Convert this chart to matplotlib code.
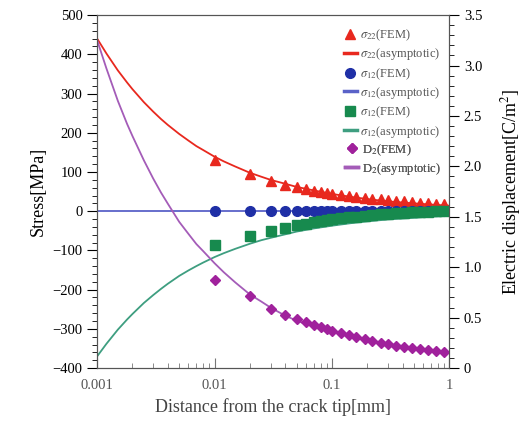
import matplotlib
matplotlib.use("Agg")
import matplotlib.pyplot as plt
from matplotlib.lines import Line2D
from matplotlib.ticker import MultipleLocator

plt.rcParams["font.family"] = ["Liberation Serif", "DejaVu Serif"]
plt.rcParams["mathtext.fontset"] = "stix"

# FEM sample positions [mm]
x_fem = [0.01, 0.02, 0.03, 0.04, 0.05, 0.06, 0.07, 0.08, 0.09, 0.10,
         0.12, 0.14, 0.16, 0.19, 0.22, 0.26, 0.30, 0.35, 0.41, 0.48,
         0.56, 0.66, 0.77, 0.90]
s22_fem = [130, 95, 78, 68, 61, 56, 52, 49, 46, 44,
           41, 38, 36, 34, 32, 30, 28, 26, 25, 23,
           22, 20, 19, 18]
s12_fem = [0, 0, 0, 0, 0, 0, 0, 0, 0, 0,
           0, 0, 0, 0, 0, 0, 0, 0, 0, 0,
           0, 0, 0, 0]
s11_fem = [-85, -64, -50, -42, -36, -32, -28, -25, -23, -21,
           -18, -16, -14, -12, -10, -8, -7, -5, -4, -3,
           -2, -1, 0, 1]
d2_fem = [0.87, 0.71, 0.59, 0.53, 0.49, 0.46, 0.43, 0.41, 0.39, 0.37,
          0.35, 0.33, 0.31, 0.29, 0.27, 0.25, 0.24, 0.22, 0.21, 0.20,
          0.19, 0.18, 0.17, 0.16]

# asymptotic solution
x_asy = [0.001, 0.0012, 0.0015, 0.0018, 0.002, 0.0025, 0.003, 0.0035,
         0.004, 0.005, 0.006, 0.007, 0.008, 0.01, 0.012, 0.015, 0.02,
         0.025, 0.03, 0.04, 0.05, 0.07, 0.1, 0.15, 0.2, 0.3, 0.5, 0.7, 1.0]
s22_asy = [440, 402, 359, 328, 311, 278, 254, 235, 220, 197, 180, 166, 156,
           139, 127, 114, 98, 88, 80, 70, 62, 53, 44, 36, 31, 25, 20, 17, 14]
s12_asy = [0, 0, 0, 0, 0, 0, 0, 0, 0, 0, 0, 0, 0, 0, 0, 0, 0, 0, 0, 0,
           0, 0, 0, 0, 0, 0, 0, 0, 0]
s11_asy = [-370, -338, -302, -276, -262, -234, -214, -198, -185, -165,
           -151, -140, -131, -117, -107, -96, -83, -74, -68, -59, -52,
           -44, -37, -30, -26, -21, -17, -14, -12]
d2_asy = [3.25, 2.97, 2.65, 2.42, 2.30, 2.06, 1.88, 1.74, 1.63, 1.45,
          1.33, 1.23, 1.16, 1.04, 0.95, 0.85, 0.73, 0.66, 0.60, 0.52,
          0.47, 0.41, 0.36, 0.31, 0.28, 0.24, 0.20, 0.17, 0.15]

c_red = "#e8281e"
c_blue = "#1f2fa6"
c_blue_l = "#5a62c8"
c_green = "#178a4e"
c_green_l = "#3e9e80"
c_purp = "#a0219c"
c_purp_l = "#a45cb8"

fig = plt.figure(figsize=(5.31, 4.32), dpi=100)
ax = fig.add_axes([0.183, 0.148, 0.663, 0.817])
ax2 = ax.twinx()

ax.plot(x_asy, s22_asy, color=c_red, lw=1.3, zorder=2)
ax.plot(x_asy, s12_asy, color=c_blue_l, lw=1.3, zorder=2)
ax.plot(x_asy, s11_asy, color=c_green_l, lw=1.3, zorder=2)
ax.plot(x_fem, s22_fem, "^", color=c_red, ms=7, zorder=3)
ax.plot(x_fem, s12_fem, "o", color=c_blue, ms=7, zorder=3)
ax.plot(x_fem, s11_fem, "s", color=c_green, ms=7, zorder=3)

ax2.plot(x_asy, d2_asy, color=c_purp_l, lw=1.3)
ax2.plot(x_fem, d2_fem, "D", color=c_purp, ms=5.5)

ax.set_xscale("log")
ax.set_xlim(0.001, 1)
ax.set_ylim(-400, 500)
ax2.set_ylim(0, 3.5)
ax.yaxis.set_major_locator(MultipleLocator(100))
ax.yaxis.set_minor_locator(MultipleLocator(20))
ax2.yaxis.set_major_locator(MultipleLocator(0.5))
ax2.yaxis.set_minor_locator(MultipleLocator(0.1))
ax.set_xticks([0.001, 0.01, 0.1, 1])
ax.set_xticklabels(["0.001", "0.01", "0.1", "1"])
ax2.set_yticklabels(["0" if t == 0 else f"{t:.1f}" for t in ax2.get_yticks()])

for a in (ax, ax2):
    a.tick_params(which="major", length=7, width=0.8, labelsize=10.5)
    a.tick_params(which="minor", length=3.5, width=0.6)
    for sp in a.spines.values():
        sp.set_color("#555555")
ax.tick_params(axis="x", which="both", direction="in", colors="#777777",
               labelcolor="#555555")
ax.tick_params(axis="x", pad=8)

ax.set_xlabel("Distance from the crack tip[mm]", fontsize=13, color="#444444")
ax.set_ylabel("Stress[MPa]", fontsize=13)
ax2.set_ylabel("Electric displacement[C/m$^2$]", fontsize=13, labelpad=12)

groups = [
    (r"$\sigma_{22}$", "^", c_red, c_red, 0.99),
    (r"$\sigma_{12}$", "o", c_blue, c_blue_l, 0.88),
    (r"$\sigma_{12}$", "s", c_green, c_green_l, 0.77),
    ("D$_2$", "D", c_purp, c_purp_l, 0.665),
]
for name, mk, cm, cl, yy in groups:
    handles = [Line2D([], [], ls="none", marker=mk, color=cm,
                      ms=7 if mk != "D" else 5.5),
               Line2D([], [], color=cl, lw=2.5)]
    leg = ax.legend(handles, [name + "(FEM)", name + "(asymptotic)"],
                    loc="upper right", bbox_to_anchor=(1.0, yy),
                    frameon=False, fontsize=9, handlelength=1.0,
                    handletextpad=0.3, labelspacing=0.25, borderpad=0.2,
                    labelcolor="#555555")
    ax.add_artist(leg)

fig.savefig("out.png", dpi=100)
